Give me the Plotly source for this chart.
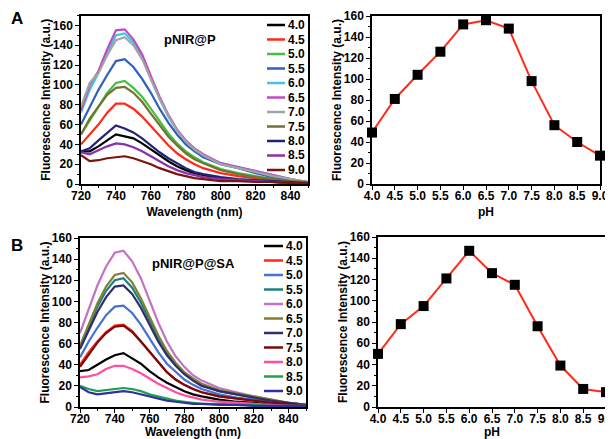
import plotly.graph_objects as go

# page body has an 8px margin, so the figure is sized to fit the 613x439 window
OFF = 8
W, H = 613 - OFF, 439 - OFF

wavelength = [720, 725, 730, 735, 740, 745, 750, 755, 760, 765, 770, 775, 780, 785, 790, 800, 810, 820, 830, 840, 850]
ph_labels = ["4.0", "4.5", "5.0", "5.5", "6.0", "6.5", "7.0", "7.5", "8.0", "8.5", "9.0"]
ph_values = [4.0, 4.5, 5.0, 5.5, 6.0, 6.5, 7.0, 7.5, 8.0, 8.5, 9.0]

# Panel A spectra (pNIR@P)
a_40 = [33, 33, 38, 44, 50, 48, 46, 41, 35, 29, 23, 18, 14, 11, 9, 6, 4, 3, 2, 1, 1]
a_45 = [40, 50, 60, 72, 81, 81, 76, 68, 58, 48, 39, 31, 25, 20, 16, 11, 8, 6, 4, 2, 1]
a_50 = [50, 64, 78, 92, 102, 104, 97, 88, 76, 63, 51, 41, 33, 27, 22, 15, 11, 8, 5, 3, 2]
a_55 = [60, 78, 95, 110, 124, 126, 118, 106, 92, 76, 62, 50, 40, 33, 27, 20, 16, 11, 7, 4, 2]
a_60 = [72, 95, 112, 132, 150, 152, 143, 128, 106, 86, 68, 54, 43, 35, 29, 21, 17, 13, 9, 5, 2]
a_65 = [74, 100, 114, 136, 155, 156, 146, 131, 109, 88, 70, 55, 44, 36, 30, 21, 17, 13, 9, 5, 2]
a_70 = [78, 102, 112, 130, 145, 148, 140, 126, 106, 86, 69, 54, 43, 35, 29, 20, 16, 12, 8, 5, 2]
a_75 = [50, 66, 78, 90, 97, 98, 92, 83, 71, 59, 48, 39, 31, 25, 21, 14, 10, 7, 5, 3, 2]
a_80 = [33, 36, 44, 52, 59, 56, 52, 46, 39, 32, 26, 21, 16, 12, 10, 7, 5, 4, 3, 2, 1]
a_85 = [32, 30, 34, 38, 41, 40, 37, 33, 28, 23, 18, 14, 11, 9, 7, 5, 4, 3, 2, 1, 1]
a_90 = [29, 23, 24, 26, 27, 28, 26, 23, 20, 16, 13, 10, 8, 6, 5, 3, 3, 2, 2, 1, 1]
spectra_a = [a_40, a_45, a_50, a_55, a_60, a_65, a_70, a_75, a_80, a_85, a_90]
colors_a = ["#000000", "#ff2a1a", "#44c040", "#2f5fc0", "#40c6e6", "#c04cc0",
            "#a3a3a3", "#737330", "#232374", "#8a32a8", "#7d1212"]

# Panel B spectra (pNIR@P@SA)
b_40 = [34, 35, 40, 45, 49, 51, 46, 41, 34, 28, 23, 19, 15, 12, 10, 7, 5, 4, 3, 2, 1]
b_45 = [40, 52, 62, 71, 77, 78, 72, 62, 52, 42, 33, 26, 21, 17, 14, 10, 8, 6, 4, 2, 1]
b_50 = [47, 62, 75, 87, 95, 96, 89, 78, 65, 52, 41, 33, 26, 21, 17, 12, 9, 7, 5, 3, 1]
b_55 = [56, 76, 95, 110, 120, 122, 113, 99, 82, 65, 51, 40, 32, 26, 21, 15, 12, 9, 6, 4, 2]
b_60 = [70, 92, 115, 133, 146, 148, 138, 122, 100, 80, 62, 48, 38, 30, 25, 18, 14, 10, 7, 4, 2]
b_65 = [58, 78, 98, 114, 125, 127, 118, 103, 85, 68, 53, 42, 33, 27, 22, 16, 13, 10, 7, 4, 2]
b_70 = [55, 73, 90, 104, 114, 115, 107, 94, 78, 62, 49, 39, 31, 25, 20, 15, 12, 9, 6, 4, 2]
b_75 = [38, 50, 61, 70, 76, 77, 71, 62, 52, 42, 33, 26, 21, 17, 14, 10, 8, 6, 4, 3, 1]
b_80 = [28, 29, 31, 36, 39, 39, 36, 32, 27, 22, 18, 14, 11, 9, 7, 5, 4, 3, 2, 1, 1]
b_85 = [20, 17, 15, 16, 17, 18, 17, 15, 12, 10, 8, 6, 5, 4, 3, 3, 2, 2, 1, 1, 1]
b_90 = [19, 14, 12, 13, 14, 15, 14, 12, 10, 8, 6, 5, 4, 3, 3, 2, 2, 1, 1, 1, 1]
spectra_b = [b_40, b_45, b_50, b_55, b_60, b_65, b_70, b_75, b_80, b_85, b_90]
colors_b = ["#000000", "#ff2a1a", "#4272d2", "#1f8080", "#c472c4", "#7f8030",
            "#2e2e6e", "#7a0a0a", "#ff4f9f", "#20a050", "#3030a0"]

# Peak intensity vs pH
peak_a = [49, 81, 104, 126, 152, 156, 148, 98, 56, 40, 27]
peak_b = [50, 78, 95, 121, 147, 126, 115, 76, 39, 17, 14]

FONT = "Liberation Sans"


def px(x):
    return (x - OFF) / W


def py(y):
    return 1 - (y - OFF) / H


fig = go.Figure()

# panel boxes in screen pixels: (x0, x1, ytop, ybottom)
boxes = {
    "1": (81, 308, 15.5, 184),
    "2": (372, 600, 16, 184),
    "3": (80, 306, 238, 407),
    "4": (378, 606, 237, 407),
}

for lab, col, ys in zip(ph_labels, colors_a, spectra_a):
    fig.add_trace(go.Scatter(x=wavelength, y=ys, mode="lines", name=lab,
                             line=dict(color=col, width=2.2), xaxis="x", yaxis="y",
                             showlegend=False))
fig.add_trace(go.Scatter(x=ph_values, y=peak_a, mode="lines+markers",
                         line=dict(color="#ff2a1a", width=2),
                         marker=dict(symbol="square", size=10, color="black"),
                         xaxis="x2", yaxis="y2", showlegend=False, cliponaxis=False))
for lab, col, ys in zip(ph_labels, colors_b, spectra_b):
    fig.add_trace(go.Scatter(x=wavelength, y=ys, mode="lines", name=lab,
                             line=dict(color=col, width=2.2), xaxis="x3", yaxis="y3",
                             showlegend=False))
fig.add_trace(go.Scatter(x=ph_values, y=peak_b, mode="lines+markers",
                         line=dict(color="#ff2a1a", width=2),
                         marker=dict(symbol="square", size=10, color="black"),
                         xaxis="x4", yaxis="y4", showlegend=False, cliponaxis=False))

tickf = dict(family=FONT, size=12, color="black", weight="bold")
titlef = dict(family=FONT, size=12, color="black", weight="bold")


def xax(key, rng, dtick, mdtick, title, t0, fmt):
    x0, x1, yt, yb = boxes[key]
    return dict(domain=[px(x0), px(x1)], range=rng, anchor="y" + ("" if key == "1" else key),
                automargin=False, ticklabeloverflow="allow", ticklabelstandoff=-4,
                showline=True, linecolor="black", linewidth=1.5, mirror=True,
                ticks="outside", ticklen=4, tickwidth=1.2, tickcolor="black",
                dtick=dtick, tick0=t0, tickfont=tickf, showgrid=False, zeroline=False,
                minor=dict(ticks="outside", ticklen=2.5, dtick=mdtick, tick0=t0, tickcolor="black"),
                title=dict(text=title, font=titlef, standoff=5), tickformat=fmt)


def yax(key, rng, title):
    x0, x1, yt, yb = boxes[key]
    return dict(domain=[py(yb), py(yt)], range=rng, anchor="x" + ("" if key == "1" else key),
                automargin=False, ticklabeloverflow="allow",
                showline=True, linecolor="black", linewidth=1.5, mirror=True,
                ticks="outside", ticklen=4, tickwidth=1.2, tickcolor="black",
                dtick=20, tick0=0, tickfont=tickf, showgrid=False, zeroline=False,
                minor=dict(ticks="outside", ticklen=2.5, dtick=10, tickcolor="black"),
                title=dict(text=title, font=titlef, standoff=0))


ytitle = "Fluorescence Intensity (a.u.)"
layout = dict(
    template="none",
    width=W, height=H, margin=dict(l=0, r=0, t=0, b=0, autoexpand=False),
    paper_bgcolor="white", plot_bgcolor="white",
    xaxis=xax("1", [720, 850], 20, 10, "Wavelength (nm)", 720, "d"),
    yaxis=yax("1", [0, 170], ytitle),
    xaxis2=xax("2", [4, 9], 0.5, 0.5, "pH", 4, ".1f"),
    yaxis2=yax("2", [0, 160], ytitle),
    xaxis3=xax("3", [720, 850], 20, 10, "Wavelength (nm)", 720, "d"),
    yaxis3=yax("3", [0, 160], ytitle),
    xaxis4=xax("4", [4, 9], 0.5, 0.5, "pH", 4, ".1f"),
    yaxis4=yax("4", [0, 160], ytitle),
)
fig.update_layout(**layout)

shapes = []
annotations = []

# custom legends
for (lx0, lx1, ly0, colors) in [(267, 285, 25, colors_a), (264, 283, 246, colors_b)]:
    for i, (lab, col) in enumerate(zip(ph_labels, colors)):
        y = ly0 + i * 14.5
        shapes.append(dict(type="line", xref="paper", yref="paper",
                           x0=px(lx0), x1=px(lx1), y0=py(y), y1=py(y),
                           line=dict(color=col, width=2.5)))
        annotations.append(dict(text=lab, xref="paper", yref="paper", x=px(lx1 + 1), y=py(y),
                                xanchor="left", yanchor="middle", showarrow=False,
                                font=dict(family=FONT, size=12, color="black", weight="bold")))

annotations += [
    dict(text="pNIR@P", xref="paper", yref="paper", x=px(190), y=py(39), showarrow=False,
         xanchor="center", yanchor="middle", font=dict(family=FONT, size=13, color="black", weight="bold")),
    dict(text="pNIR@P@SA", xref="paper", yref="paper", x=px(193), y=py(263), showarrow=False,
         xanchor="center", yanchor="middle", font=dict(family=FONT, size=13, color="black", weight="bold")),
    dict(text="A", xref="paper", yref="paper", x=px(17), y=py(19), showarrow=False,
         xanchor="center", yanchor="middle", font=dict(family=FONT, size=17, color="black", weight="bold")),
    dict(text="B", xref="paper", yref="paper", x=px(17), y=py(246), showarrow=False,
         xanchor="center", yanchor="middle", font=dict(family=FONT, size=17, color="black", weight="bold")),
]

fig.update_layout(shapes=shapes, annotations=annotations)
fig.write_html("out.html")
